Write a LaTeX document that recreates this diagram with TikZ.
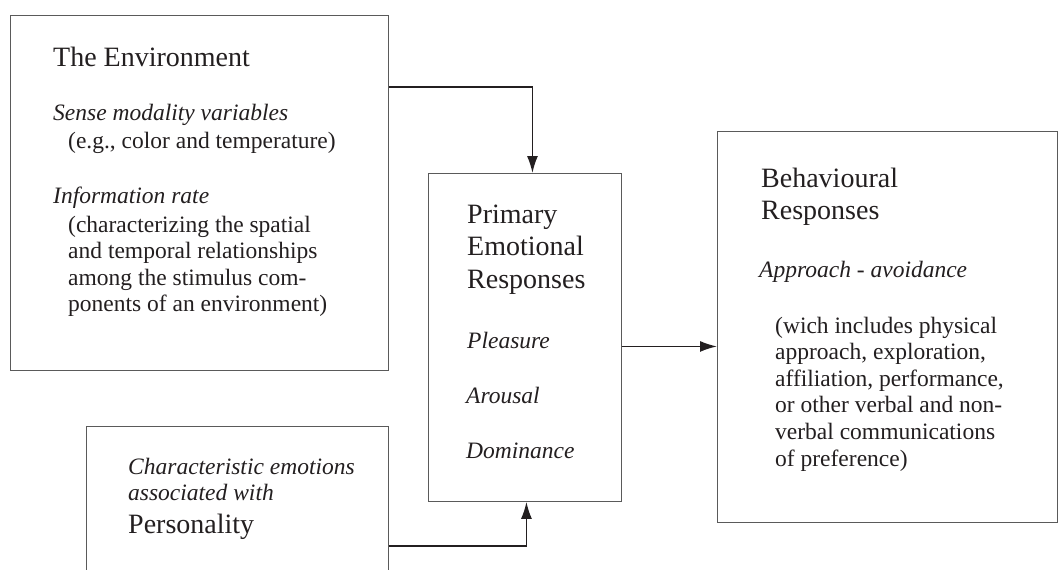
\documentclass[tikz,border=0pt]{standalone}
\usepackage{fontspec}
\setmainfont{Liberation Serif}
\usepackage{tikz}
\usetikzlibrary{arrows.meta}

\definecolor{ink}{HTML}{231F20}
\definecolor{frame}{HTML}{5A5A5A}

% stacked lines, baseline on the first one
\newcommand{\vlines}[1]{\vtop{\halign{##\hfil\cr#1\crcr}}}

\tikzset{
  box/.style={draw=frame, line width=0.9pt, inner sep=0pt, anchor=north west},
  head/.style={text=ink, inner sep=0pt, anchor=base west,
    font=\fontsize{28}{32.5}\selectfont},
  body/.style={text=ink, inner sep=0pt, anchor=base west,
    font=\fontsize{23.5}{26.6}\selectfont},
  flow/.style={draw=ink, line width=1.5pt, -{Latex[length=17pt,width=11pt]}}
}

\begin{document}
\begin{tikzpicture}[x=1pt,y=-1pt]
			\useasboundingbox (0,0) rectangle (1058,570);
			\clip (0,0) rectangle (1058,570);
			\fill[white] (0,0) rectangle (1058,570);
			% boxes
			\node[box, minimum width=378pt, minimum height=355pt] (env) at (10,15) {};
			\node[box, minimum width=193pt, minimum height=328pt] (prim) at (428,173) {};
			\node[box, minimum width=340pt, minimum height=391pt] (beh) at (717,131) {};
			\node[box, minimum width=302pt, minimum height=200pt] (pers) at (86,426) {};
			% the environment
			\node[head] (envtitle) at (53,66) {The Environment};
			\node[body] (sense) at (53,120) {\itshape Sense modality variables};
			\node[body] (sensex) at (68,148) {(e.g., color and temperature)};
			\node[body] (inforate) at (53,203) {\itshape Information rate};
			\node[body] (inforatex) at (68,232) {\vlines{(characterizing the spatial\cr and temporal relationships\cr among the stimulus com-\cr ponents of an environment)}};
			% emotional responses
			\node[head] (primtitle) at (467,223) {\vlines{Primary\cr Emotional\cr Responses}};
			\node[body] (pleasure) at (467,348) {\itshape Pleasure};
			\node[body] (arousal) at (466,403) {\itshape Arousal};
			\node[body] (dominance) at (466,458) {\itshape Dominance};
			% behaviour
			\node[head] (behtitle) at (761,187) {\vlines{Behavioural\cr Responses}};
			\node[body] (approach) at (759,277) {\itshape Approach - avoidance};
			\node[body] (approachx) at (775,333) {\vlines{(wich includes physical\cr approach, exploration,\cr affiliation, performance,\cr or other verbal and non-\cr verbal communications\cr of preference)}};
			% personality
			\node[body] (chars) at (128,474) {\itshape\vlines{Characteristic emotions\cr associated with}};
			\node[head] (perstitle) at (128,533) {Personality};
			% arrows
			\coordinate (a1) at ([yshift=-72pt]env.north east);
			\coordinate (a2) at ([yshift=-9pt]prim.east);
			\coordinate (a3) at ([yshift=-120pt]pers.north east);
			\draw[flow] (a1) -| ([xshift=7.5pt]prim.north);
			\draw[flow] (a2) -- (a2 -| beh.west);
			\draw[flow] (a3) -| ([xshift=1.5pt]prim.south);
			\end{tikzpicture}
\end{document}
